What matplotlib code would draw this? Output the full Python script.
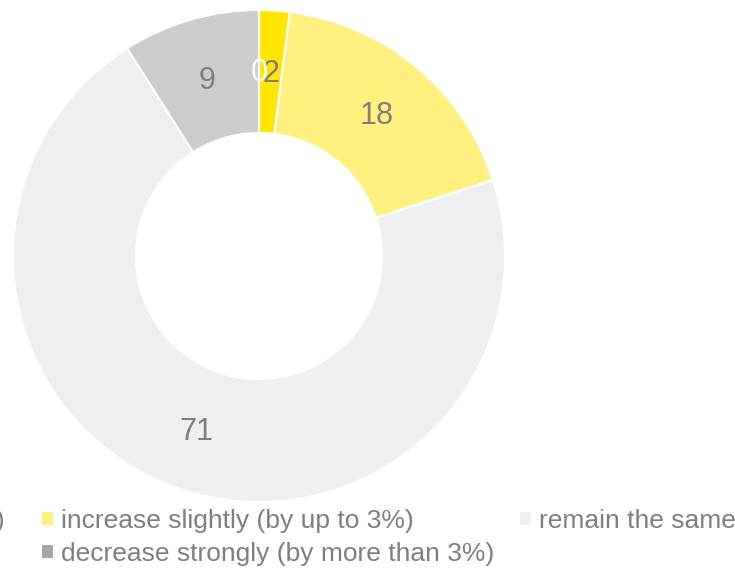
import matplotlib
matplotlib.use('Agg')
import matplotlib.pyplot as plt
from matplotlib.patches import Patch
import numpy as np

# data
categories = ['increase strongly (by more than 3%)',
              'increase slightly (by up to 3%)',
              'remain the same',
              'decrease slightly (by up to 3%)',
              'decrease strongly (by more than 3%)']
values = [2, 18, 71, 9, 0]

colors = ['#FFE600', '#FFF080', '#EFEFEF', '#CCCCCC', '#A6A6A6']
label_colors = ['#7F7F7F', '#7F7F7F', '#7F7F7F', '#7F7F7F', '#FFFFFF']
text_color = '#7F7F7F'

plt.rcParams['font.family'] = ['Liberation Sans', 'DejaVu Sans']

W, H = 735, 568
fig = plt.figure(figsize=(W / 100, H / 100), dpi=100)

# donut: centre (259, 256) px, outer radius 246 px
cx, cy, R = 259, 256, 246
ax = fig.add_axes([(cx - R) / W, (H - cy - R) / H, 2 * R / W, 2 * R / H])
wedges, _ = ax.pie(values, colors=colors, startangle=90, counterclock=False,
                   radius=1, wedgeprops=dict(width=0.5, edgecolor='white', linewidth=1.5))
ax.set_xlim(-1, 1)
ax.set_ylim(-1, 1)
ax.set_aspect('equal')
ax.axis('off')

# value labels in the middle of the ring
for w, v, c in zip(wedges, values, label_colors):
    ang = np.deg2rad((w.theta1 + w.theta2) / 2)
    ax.text(0.75 * np.cos(ang), 0.75 * np.sin(ang) - 0.008, str(v), color=c,
            fontsize=22, ha='center', va='center')

# legend entries (layout as in the cropped source: first column off the left edge)
legend_pos = [(-439, 521), (42, 521), (520, 521), (-439, 554), (42, 554)]
for cat, col, (x, y) in zip(categories, colors, legend_pos):
    fig.legend(handles=[Patch(facecolor=col, edgecolor='none')], labels=[cat],
               loc='center left', bbox_to_anchor=(x / W, 1 - y / H),
               frameon=False, fontsize=19, labelcolor=text_color,
               handlelength=0.42, handleheight=0.42, handletextpad=0.3,
               borderpad=0, borderaxespad=0)

plt.savefig('out.png', dpi=100)
